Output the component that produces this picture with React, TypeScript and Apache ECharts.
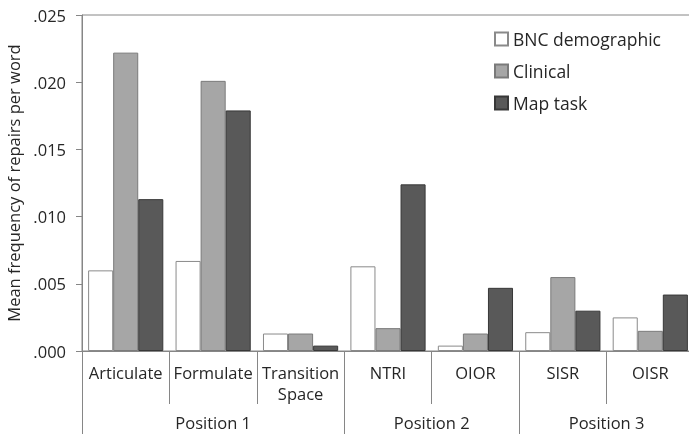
import React, { useEffect, useRef } from "react";
import * as echarts from "echarts";

const categories = ["Articulate", "Formulate", "Transition Space", "NTRI", "OIOR", "SISR", "OISR"];
const groupNames = ["Position 1", "Position 2", "Position 3"];
const groupSizes = [3, 2, 2];
const seriesNames = ["BNC demographic", "Clinical", "Map task"];
const bncValues = [0.006, 0.0067, 0.0013, 0.0063, 0.0004, 0.0014, 0.0025];
const clinicalValues = [0.0222, 0.0201, 0.0013, 0.0017, 0.0013, 0.0055, 0.0015];
const mapTaskValues = [0.0113, 0.0179, 0.0004, 0.0124, 0.0047, 0.003, 0.0042];
const yTicks = { min: 0, max: 0.025, interval: 0.005 };

const FONT = "'Open Sans', 'DejaVu Sans', sans-serif";
const TEXT = "#262626";
const AXIS = "#868686";
const FS = 16.5;

export default function App() {
  const ref = useRef<HTMLDivElement>(null);
  useEffect(() => {
    if (!ref.current) return;
    const chart = echarts.init(ref.current, undefined, { renderer: "svg" });

    const boundaries: number[] = [0];
    const centers: Record<string, string> = {};
    let acc = 0;
    groupSizes.forEach((s, i) => {
      centers[String(acc + s / 2)] = groupNames[i];
      acc += s;
      boundaries.push(acc);
    });

    const styles = [
      { color: "#ffffff", borderColor: "#8a8a8a" },
      { color: "#a6a6a6", borderColor: "#7a7a7a" },
      { color: "#595959", borderColor: "#383838" },
    ];
    const data = [bncValues, clinicalValues, mapTaskValues];

    chart.setOption({
      animation: false,
      textStyle: { fontFamily: FONT },
      grid: {
        left: 82,
        top: 15,
        right: -5,
        bottom: 83,
        outerBoundsMode: "none",
        containLabel: false,
        show: true,
        borderColor: AXIS,
        borderWidth: 1,
        backgroundColor: "transparent",
      },
      legend: {
        orient: "vertical",
        left: 489,
        top: 25,
        itemWidth: 13,
        itemHeight: 13,
        itemGap: 14,
        icon: "rect",
        textStyle: { fontSize: 17.5, color: TEXT, fontFamily: FONT },
        data: seriesNames,
      },
      xAxis: [
        {
          type: "category",
          data: categories,
          position: "bottom",
          axisLine: { show: true, lineStyle: { color: AXIS } },
          axisTick: { show: true, interval: 0, length: 53, lineStyle: { color: AXIS } },
          axisLabel: {
            interval: 0,
            fontSize: FS,
            color: TEXT,
            margin: 11,
            lineHeight: 21,
            fontFamily: FONT,
            formatter: (v: string) => v.replace(" ", "\n"),
          },
        },
        {
          type: "category",
          data: categories,
          position: "bottom",
          axisLine: { show: false },
          axisTick: {
            show: true,
            length: 90,
            interval: (i: number) => boundaries.indexOf(i) >= 0,
            lineStyle: { color: AXIS },
          },
          axisLabel: { show: false },
        },
        {
          type: "value",
          min: 0,
          max: categories.length,
          interval: 0.5,
          position: "bottom",
          axisLine: { show: false },
          axisTick: { show: false },
          splitLine: { show: false },
          axisLabel: {
            fontSize: FS,
            color: TEXT,
            margin: 63,
            fontFamily: FONT,
            showMinLabel: true,
            showMaxLabel: true,
            formatter: (v: number) => centers[String(v)] || "",
          },
        },
      ],
      yAxis: {
        type: "value",
        min: yTicks.min,
        max: yTicks.max,
        interval: yTicks.interval,
        name: "Mean frequency of repairs per word",
        nameLocation: "middle",
        nameGap: 60,
        nameTextStyle: { fontSize: FS, color: TEXT, fontFamily: FONT },
        axisLine: { show: true, lineStyle: { color: AXIS } },
        axisTick: { show: true, length: 6, lineStyle: { color: AXIS } },
        splitLine: { show: false },
        axisLabel: {
          fontSize: FS,
          color: TEXT,
          margin: 16,
          fontFamily: FONT,
          formatter: (v: number) => v.toFixed(3).replace(/^0/, ""),
        },
      },
      series: seriesNames.map((name, i) => ({
        name,
        type: "bar",
        xAxisIndex: 0,
        data: data[i],
        barGap: "0%",
        barCategoryGap: "14%",
        itemStyle: { ...styles[i], borderWidth: 1 },
      })),
    });
    return () => chart.dispose();
  }, []);
  return (
    <div
      ref={ref}
      style={{ position: "fixed", left: 0, top: 0, width: 689, height: 434 }}
    />
  );
}
